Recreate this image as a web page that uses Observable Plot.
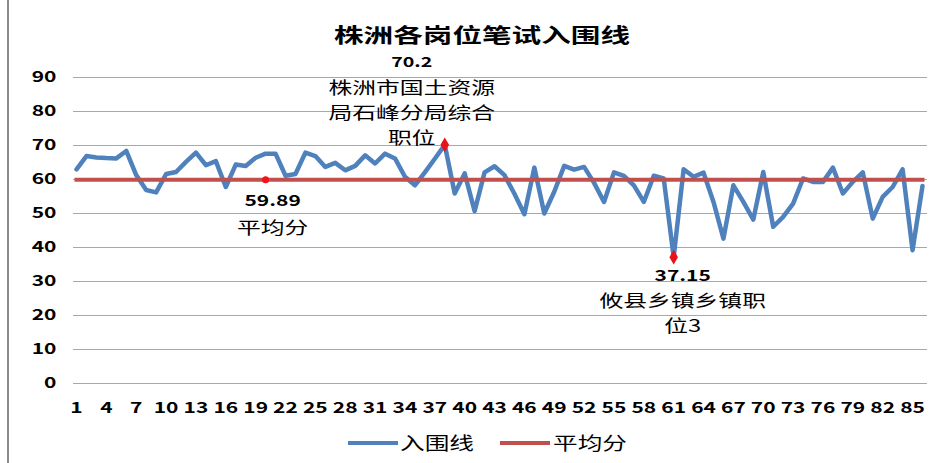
<!DOCTYPE html>
<html><head><meta charset="utf-8">
<script src="https://cdn.jsdelivr.net/npm/d3@7"></script>
<script src="https://cdn.jsdelivr.net/npm/@observablehq/plot@0.6"></script>
<style>
body{margin:0;background:#fff;font-family:'Noto Sans CJK SC','Noto Sans',sans-serif;color:#000;}
#wrap{position:relative;width:950px;height:463px;overflow:hidden;background:#fff;}
#chart{position:absolute;left:0;top:0;}
#title{position:absolute;top:25px;left:0;width:964px;text-align:center;font-size:20px;line-height:20px;height:20px;font-weight:bold;}
#title span{display:inline-block;transform:scaleX(1.48);transform-origin:center;}
#legend{position:absolute;left:0;top:420px;width:950px;height:43px;}
.sw{position:absolute;height:4px;width:50px;top:21px;}
.lt{position:absolute;top:12px;font-size:18px;line-height:20px;transform:scaleX(1.37);transform-origin:left center;white-space:nowrap;}
#frame{position:absolute;left:7px;top:0;width:2px;height:463px;background:#8c8c8c;}
</style></head><body>
<div id="wrap">
  <div id="chart"></div>
  <div id="title"><span>株洲各岗位笔试入围线</span></div>
  <div id="legend">
    <div class="sw" style="left:348px;background:#4F81BD"></div><span class="lt" style="left:400px">入围线</span>
    <div class="sw" style="left:500px;background:#C0504D"></div><span class="lt" style="left:553px">平均分</span>
  </div>
  <div id="frame"></div>
</div>
<script>
// ---- data ----
const positions = d3.range(1, 87); // 岗位序号 1..86
const scores = [
  63.0, 66.9, 66.5, 66.3, 66.2, 68.4, 61.3, 56.9, 56.2, 61.6,
  62.2, 65.2, 67.9, 64.2, 65.4, 57.8, 64.4, 64.0, 66.4, 67.6,
  67.6, 61.1, 61.6, 67.9, 66.9, 63.7, 64.9, 62.7, 64.0, 67.1,
  64.7, 67.6, 66.2, 60.8, 58.3, 62.1, 66.1, 70.2, 55.9, 61.8,
  50.7, 62.1, 63.9, 61.3, 55.8, 49.8, 63.5, 50.0, 56.4, 64.0,
  62.9, 63.7, 59.0, 53.4, 62.1, 61.1, 58.3, 53.4, 61.1, 60.3,
  37.15, 63.0, 60.8, 62.0, 53.4, 42.6, 58.3, 53.4, 48.2, 62.2,
  46.1, 49.0, 52.9, 60.3, 59.3, 59.3, 63.5, 55.9, 59.3, 62.1,
  48.5, 54.9, 57.8, 63.0, 39.2, 58.1
];
const average = 59.89;
const xTicks = d3.range(1, 86, 3);
const yTicks = d3.range(0, 91, 10);
// annotated points
const maxPoint = {n: 38, v: 70.2, label: "70.2", name: "株洲市国土资源\n局石峰分局综合\n职位"};
const avgPoint = {n: 20, v: 59.89, label: "59.89", name: "平均分"};
const minPoint = {n: 61, v: 37.15, label: "37.15", name: "攸县乡镇乡镇职\n位3"};

const lineData = positions.map((n, i) => ({n, v: scores[i]}));
const avgData = positions.map(n => ({n, v: average}));

const BLUE = "#4F81BD", RED = "#C0504D";

function annot(p, dx, dyVal, dyName, valSize = 15) {
  return [
    Plot.text([p], {x: "n", y: "v", text: "label", dx, dy: dyVal, fontSize: valSize, fontWeight: "bold", fill: "#000"}),
    Plot.text([p], {x: "n", y: "v", text: "name", dx, dy: dyName, fontSize: 17, fontWeight: "normal", lineHeight: 1.47, fill: "#000"})
  ];
}

const chart = Plot.plot({
  width: 950,
  height: 420,
  marginLeft: 76,
  marginRight: 28,
  marginTop: 77,
  marginBottom: 37,
  style: {fontFamily: "'Noto Sans CJK SC','Noto Sans',sans-serif", fontSize: "15px", fontWeight: "bold", color: "#000", background: "transparent", overflow: "visible"},
  x: {domain: [1, 86], ticks: xTicks, tickFormat: d => String(d), tickSize: 0, tickPadding: 19, label: null},
  y: {domain: [0, 90], ticks: yTicks, tickSize: 0, tickPadding: 20, label: null},
  marks: [
    Plot.ruleY(yTicks, {x1: 0.7, x2: 86.5, stroke: "#a8a8a8", strokeWidth: 1.2}),
    Plot.line(lineData, {x: "n", y: "v", stroke: BLUE, strokeWidth: 4.5, strokeLinejoin: "round"}),
    Plot.line(avgData, {x: "n", y: "v", stroke: RED, strokeWidth: 4, strokeLinecap: "square"}),
    Plot.dot([maxPoint, minPoint], {x: "n", y: "v", symbol: "diamond", r: 4.5, fill: "#e8121a", stroke: "none"}),
    Plot.dot([avgPoint], {x: "n", y: "v", r: 3.5, fill: "#f0131b", stroke: "none"}),
    ...annot(maxPoint, -33, -82, -34, 14),
    ...annot(avgPoint, 7, 21, 46),
    ...annot(minPoint, 9, 19, 54)
  ]
});
document.getElementById("chart").appendChild(chart);

// horizontally stretched lettering, as in the reference
const S = 1.4;
chart.querySelectorAll("text").forEach(t => {
  const tr = t.getAttribute("transform") || "";
  const x = parseFloat(t.getAttribute("x")) || 0;
  t.setAttribute("transform", `${tr} translate(${x},0) scale(${S},1) translate(${-x},0)`);
});
</script>
</body></html>
